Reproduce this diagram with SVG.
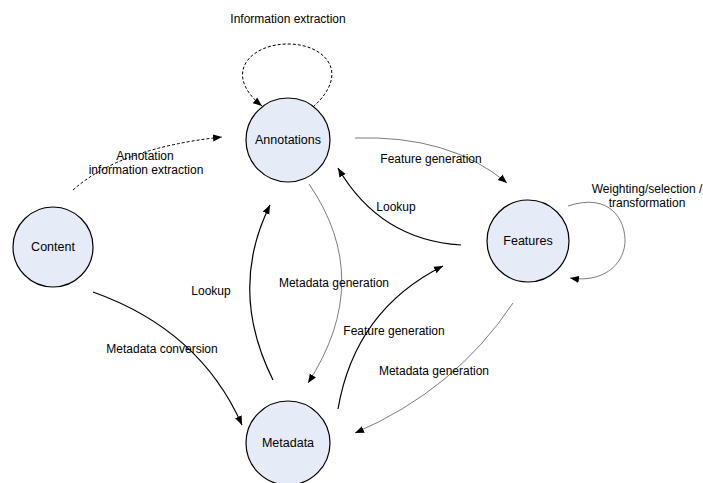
<svg xmlns="http://www.w3.org/2000/svg" width="703" height="483" viewBox="0 0 703 483">
<style>
.node{fill:#e6ecf7;stroke:#000;stroke-width:1.2}
.nl{font-family:"Liberation Sans",Arial,sans-serif;font-size:12.5px;fill:#000;text-anchor:middle}
.el{font-family:"Liberation Sans",Arial,sans-serif;font-size:12px;fill:#000;text-anchor:middle}
.blk{fill:none;stroke:#000;stroke-width:1.2;marker-end:url(#ab)}
.gry{fill:none;stroke:#444;stroke-width:0.7;marker-end:url(#ab)}
.dsh{fill:none;stroke:#000;stroke-width:1;stroke-dasharray:3,2;marker-end:url(#ab)}
</style>
<defs>
<marker id="ab" viewBox="0 0 10 10" refX="10" refY="5" markerWidth="9" markerHeight="9" markerUnits="userSpaceOnUse" orient="auto">
<path d="M0,1 L10,5 L0,9 z" fill="#000"/>
</marker>
</defs>
<rect width="703" height="483" fill="#fff"/>
<g id="connectors">
<path class="dsh" d="M313,107 C352,72 324,44 288,44 C250,44 222,74 262,106"/>
<path class="dsh" d="M73,190 Q120,148 222,137"/>
<path class="gry" d="M355,138 Q450,135 507,183"/>
<path class="blk" d="M461,245 Q380,240 338,168"/>
<path class="gry" d="M568,206 C610,192 626,220 625,243 C623,266 602,283 570,278"/>
<path class="gry" d="M309,184 Q375,280 308,383"/>
<path class="blk" d="M273,380 Q228,290 270,205"/>
<path class="blk" d="M338,409 Q355,310 443,266"/>
<path class="gry" d="M513,303 Q455,390 355,433"/>
<path class="blk" d="M93,292 Q200,330 242,425"/>
<text class="el" x="288" y="23">Information extraction</text>
<text class="el" x="145" y="160">Annotation</text>
<text class="el" x="146" y="174">information extraction</text>
<text class="el" x="431" y="163">Feature generation</text>
<text class="el" x="396" y="211">Lookup</text>
<text class="el" x="647" y="193">Weighting/selection /</text>
<text class="el" x="647" y="207">transformation</text>
<text class="el" x="334" y="287">Metadata generation</text>
<text class="el" x="211" y="295">Lookup</text>
<text class="el" x="394" y="335">Feature generation</text>
<text class="el" x="434" y="375">Metadata generation</text>
<text class="el" x="162" y="353">Metadata conversion</text>
</g>
<g id="annotations"><circle class="node" cx="288" cy="140" r="42"/><text class="nl" x="288" y="144">Annotations</text></g>
<g id="content"><circle class="node" cx="53" cy="247" r="40"/><text class="nl" x="53" y="251">Content</text></g>
<g id="features"><circle class="node" cx="528" cy="241" r="41"/><text class="nl" x="528" y="245">Features</text></g>
<g id="metadata"><circle class="node" cx="288" cy="443" r="42"/><text class="nl" x="288" y="447">Metadata</text></g>
</svg>
